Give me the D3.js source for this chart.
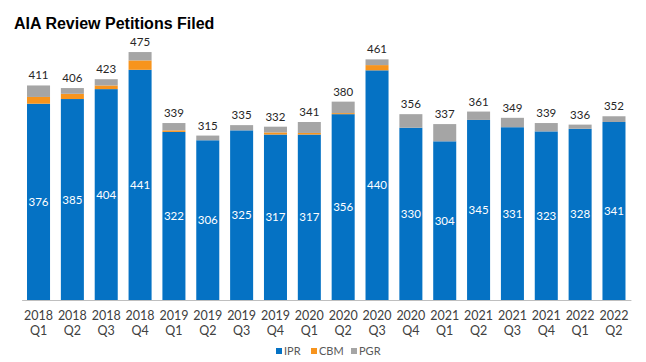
<!DOCTYPE html>
<html>
<head>
<meta charset="utf-8">
<script src="https://cdn.jsdelivr.net/npm/d3@7"></script>
<style>
  html, body { margin: 0; padding: 0; background: #ffffff; }
  svg { display: block; }
</style>
</head>
<body>
<svg id="chart" width="646" height="362"></svg>
<script>
const years    = ["2018","2018","2018","2018","2019","2019","2019","2019","2020","2020","2020","2020","2021","2021","2021","2021","2022","2022"];
const quarters = ["Q1","Q2","Q3","Q4","Q1","Q2","Q3","Q4","Q1","Q2","Q3","Q4","Q1","Q2","Q3","Q4","Q1","Q2"];
const ipr = [376, 385, 404, 441, 322, 306, 325, 317, 317, 356, 440, 330, 304, 345, 331, 323, 328, 341];
const cbm = [13, 10, 7, 18, 3, 0, 0, 4, 3, 2, 10, 0, 0, 0, 0, 0, 0, 0];
const pgr = [22, 11, 12, 16, 14, 9, 10, 11, 21, 22, 11, 26, 33, 16, 18, 16, 8, 11];
const totals = [411, 406, 423, 475, 339, 315, 335, 332, 341, 380, 461, 356, 337, 361, 349, 339, 336, 352];
const seriesNames = ["IPR", "CBM", "PGR"];
const colors = ["#0572c4", "#f7941d", "#a5a5a5"];

const periods = years.map((y, i) => y + " " + quarters[i]);
const rows = periods.map((p, i) => ({ period: p, IPR: ipr[i], CBM: cbm[i], PGR: pgr[i], total: totals[i] }));

const svg = d3.select("#chart");

const x = d3.scaleBand().domain(periods).range([21.6, 630.9]).paddingInner(0.32).paddingOuter(0.16);
const y = d3.scaleLinear().domain([0, 500]).range([300, 39]);
const color = d3.scaleOrdinal().domain(seriesNames).range(colors);

// Title
svg.append("text")
  .attr("x", 14).attr("y", 29)
  .attr("font-family", "Liberation Sans, Arial, sans-serif")
  .attr("font-weight", "bold")
  .attr("font-size", 16)
  .attr("fill", "#000")
  .text("AIA Review Petitions Filed");

// Stacked bars
const stacked = d3.stack().keys(seriesNames)(rows);
svg.append("g").selectAll("g")
  .data(stacked).join("g")
  .attr("fill", d => color(d.key))
  .selectAll("rect")
  .data(d => d).join("rect")
  .attr("x", d => x(d.data.period))
  .attr("width", x.bandwidth())
  .attr("y", d => y(d[1]))
  .attr("height", d => y(d[0]) - y(d[1]));

// Axis
const xAxis = svg.append("g")
  .attr("transform", `translate(0,${y(0)})`)
  .call(d3.axisBottom(x).tickSize(0).tickFormat(""));
xAxis.select(".domain").attr("stroke", "#bfbfbf").attr("stroke-width", 1.2);

const tickG = svg.append("g")
  .attr("font-family", "Lato, 'Open Sans', sans-serif")
  .attr("font-size", 12.5)
  .attr("fill", "#404040")
  .attr("text-anchor", "middle");
tickG.selectAll("text.yr").data(rows).join("text")
  .attr("class", "yr")
  .attr("x", d => x(d.period) + x.bandwidth() / 2)
  .attr("y", 320)
  .text((d, i) => years[i]);
tickG.selectAll("text.q").data(rows).join("text")
  .attr("class", "q")
  .attr("x", d => x(d.period) + x.bandwidth() / 2)
  .attr("y", 335)
  .text((d, i) => quarters[i]);

// Total labels
svg.append("g")
  .attr("font-family", "Lato, 'Open Sans', sans-serif")
  .attr("font-size", 11.5)
  .attr("fill", "#262626")
  .attr("text-anchor", "middle")
  .selectAll("text").data(rows).join("text")
  .attr("x", d => x(d.period) + x.bandwidth() / 2)
  .attr("y", d => y(d.total) - 6)
  .text(d => d.total);

// IPR labels
svg.append("g")
  .attr("font-family", "Lato, 'Open Sans', sans-serif")
  .attr("font-size", 11.5)
  .attr("fill", "#ffffff")
  .attr("text-anchor", "middle")
  .selectAll("text").data(rows).join("text")
  .attr("x", d => x(d.period) + x.bandwidth() / 2)
  .attr("y", d => y(d.IPR / 2) + 4)
  .text(d => d.IPR);

// Legend
const legendX = [276, 311, 351];
const legend = svg.append("g");
seriesNames.forEach((name, i) => {
  legend.append("rect")
    .attr("x", legendX[i]).attr("y", 348)
    .attr("width", 6).attr("height", 6)
    .attr("fill", color(name));
  legend.append("text")
    .attr("x", legendX[i] + 8).attr("y", 355)
    .attr("font-family", "Lato, 'Open Sans', sans-serif")
    .attr("font-size", 11)
    .attr("fill", "#595959")
    .text(name);
});
</script>
</body>
</html>
